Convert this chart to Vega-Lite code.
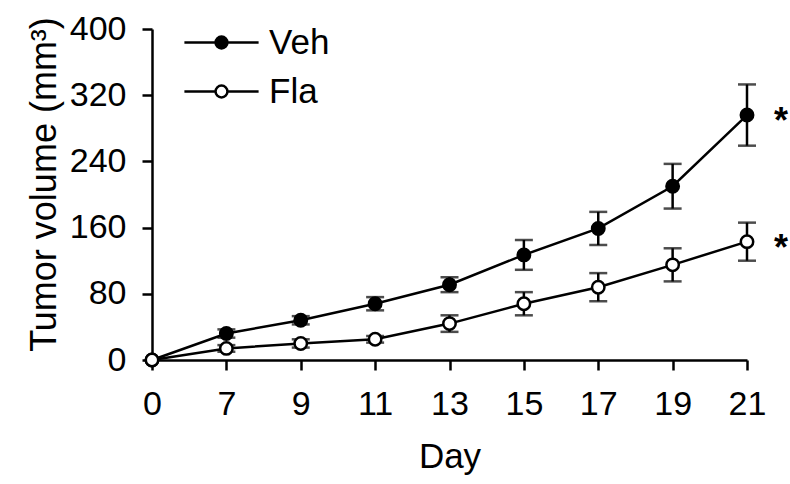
{
  "$schema": "https://vega.github.io/schema/vega-lite/v6.json",
  "width": 595,
  "height": 331,
  "autosize": {"type": "none"},
  "padding": {"left": 152, "top": 29, "right": 43, "bottom": 124},
  "background": "white",
  "config": {
    "view": {"stroke": null},
    "font": "Liberation Sans",
    "axis": {
      "domainColor": "black",
      "domainWidth": 2.5,
      "tickColor": "black",
      "tickWidth": 2.5,
      "tickSize": 10,
      "grid": false,
      "labelFont": "Liberation Sans",
      "labelFontSize": 34,
      "labelColor": "black",
      "titleFont": "Liberation Sans",
      "titleFontSize": 35,
      "titleFontWeight": "normal",
      "titleColor": "black"
    },
    "legend": {
      "labelFont": "Liberation Sans",
      "labelFontSize": 35,
      "labelColor": "black"
    }
  },
  "data": {
    "values": [
      {"day": 0, "group": "Veh", "mean": 0, "lo": null, "hi": null, "sig": null},
      {"day": 7, "group": "Veh", "mean": 32, "lo": 27, "hi": 37, "sig": null},
      {"day": 9, "group": "Veh", "mean": 48, "lo": 43, "hi": 53, "sig": null},
      {"day": 11, "group": "Veh", "mean": 68, "lo": 60, "hi": 76, "sig": null},
      {"day": 13, "group": "Veh", "mean": 91, "lo": 82, "hi": 100, "sig": null},
      {"day": 15, "group": "Veh", "mean": 127, "lo": 109, "hi": 145, "sig": null},
      {"day": 17, "group": "Veh", "mean": 159, "lo": 139, "hi": 179, "sig": null},
      {"day": 19, "group": "Veh", "mean": 210, "lo": 183, "hi": 237, "sig": null},
      {"day": 21, "group": "Veh", "mean": 296, "lo": 259, "hi": 333, "sig": "*"},
      {"day": 0, "group": "Fla", "mean": 0, "lo": null, "hi": null, "sig": null},
      {"day": 7, "group": "Fla", "mean": 14, "lo": 10, "hi": 18, "sig": null},
      {"day": 9, "group": "Fla", "mean": 20, "lo": 15, "hi": 25, "sig": null},
      {"day": 11, "group": "Fla", "mean": 25, "lo": 21, "hi": 29, "sig": null},
      {"day": 13, "group": "Fla", "mean": 44, "lo": 34, "hi": 54, "sig": null},
      {"day": 15, "group": "Fla", "mean": 68, "lo": 54, "hi": 82, "sig": null},
      {"day": 17, "group": "Fla", "mean": 88, "lo": 71, "hi": 105, "sig": null},
      {"day": 19, "group": "Fla", "mean": 115, "lo": 95, "hi": 135, "sig": null},
      {"day": 21, "group": "Fla", "mean": 143, "lo": 120, "hi": 166, "sig": "*"}
    ]
  },
  "encoding": {
    "x": {
      "field": "day",
      "type": "ordinal",
      "scale": {"type": "point", "padding": 0},
      "axis": {"title": "Day", "labelAngle": 0, "labelPadding": 17, "titlePadding": 18}
    }
  },
  "layer": [
    {
      "mark": {"type": "line", "color": "black", "strokeWidth": 2.5},
      "encoding": {
        "y": {
          "field": "mean",
          "type": "quantitative",
          "scale": {"domain": [0, 400], "nice": false},
          "axis": {
            "title": "Tumor volume (mm³)",
            "values": [0, 80, 160, 240, 320, 400],
            "labelPadding": 16,
            "titlePadding": 6,
            "titleFontSize": 36,
            "titleY": 155
          }
        },
        "detail": {"field": "group"}
      }
    },
    {
      "mark": {"type": "rule", "color": "black", "strokeWidth": 2.5},
      "encoding": {
        "y": {"field": "lo", "type": "quantitative"},
        "y2": {"field": "hi"},
        "detail": {"field": "group"}
      }
    },
    {
      "mark": {"type": "tick", "color": "black", "thickness": 2.5, "size": 18, "orient": "horizontal"},
      "encoding": {
        "y": {"field": "lo", "type": "quantitative"},
        "detail": {"field": "group"}
      }
    },
    {
      "mark": {"type": "tick", "color": "black", "thickness": 2.5, "size": 18, "orient": "horizontal"},
      "encoding": {
        "y": {"field": "hi", "type": "quantitative"},
        "detail": {"field": "group"}
      }
    },
    {
      "mark": {"type": "point", "filled": true, "size": 154, "stroke": "black", "strokeWidth": 2.5, "opacity": 1},
      "encoding": {
        "y": {"field": "mean", "type": "quantitative"},
        "fill": {
          "field": "group",
          "type": "nominal",
          "scale": {"domain": ["Veh", "Fla"], "range": ["black", "white"]},
          "legend": {
            "title": null,
            "orient": "none",
            "legendX": 52,
            "legendY": -4,
            "padding": 0,
            "rowPadding": 13,
            "labelOffset": 30,
            "symbolType": "M-5.3,0H-0.85M0.85,0H5.3M0.85,0A0.85,0.85,0,1,1,-0.85,0A0.85,0.85,0,1,1,0.85,0Z",
            "symbolSize": 196,
            "symbolStrokeColor": "black",
            "symbolStrokeWidth": 2.5,
            "symbolOpacity": 1
          }
        }
      }
    },
    {
      "transform": [{"filter": "datum.sig != null"}],
      "mark": {"type": "text", "fontSize": 36, "fontWeight": "bold", "color": "black", "dx": 34, "dy": 7, "align": "center", "baseline": "middle"},
      "encoding": {
        "y": {"field": "mean", "type": "quantitative"},
        "text": {"field": "sig"}
      }
    }
  ]
}
